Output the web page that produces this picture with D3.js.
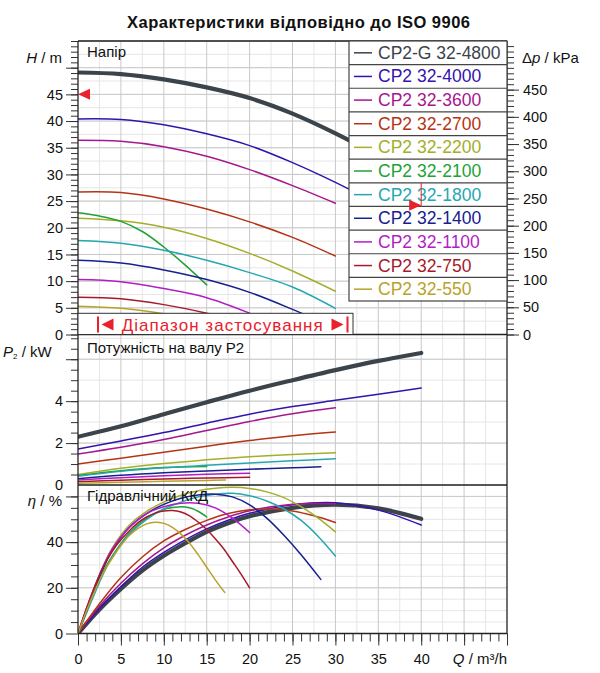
<!DOCTYPE html>
<html lang="uk">
<head>
<meta charset="utf-8">
<title>Характеристики відповідно до ISO 9906</title>
<style>
  html,body { margin:0; padding:0; background:#fff; }
  svg { display:block; }
  text { font-family: "Liberation Sans", Arial, sans-serif; }
</style>
<script src="https://d3js.org/d3.v7.min.js"></script>
</head>
<body>
<svg width="600" height="673"></svg>
<script>
// pump models, in legend order
const models = ["CP2-G 32-4800", "CP2 32-4000", "CP2 32-3600", "CP2 32-2700", "CP2 32-2200",
  "CP2 32-2100", "CP2 32-1800", "CP2 32-1400", "CP2 32-1100", "CP2 32-750", "CP2 32-550"];

// head H [m] vs Q [m³/h]
const head4800 = [[0,49.1],[5,48.8],[10,47.8],[15,46.3],[20,44.3],[25,41.4],[30,37.7],[35,33.5],[40,29]];
const head4000 = [[0,40.4],[5,40.3],[10,39.3],[15,37.6],[20,35.4],[25,32.2],[30,28.5],[35,24.4],[40,20]];
const head3600 = [[0,36.4],[5,36.2],[10,35.2],[15,33.4],[20,30.9],[25,27.9],[30,24.6]];
const head2700 = [[0,26.7],[5,26.6],[10,25.4],[15,23.5],[20,21.1],[25,18.2],[30,14.7]];
const head2200 = [[0,21.8],[5,21.3],[10,20.1],[15,18.0],[20,15.2],[25,11.9],[30,8.1]];
const head2100 = [[0,22.8],[2.5,22.2],[5,21.2],[7.5,19.3],[10,16.4],[12.5,13.0],[15,9.3]];
const head1800 = [[0,17.6],[5,17.1],[10,15.8],[15,13.9],[20,11.6],[25,8.9],[30,4.9]];
const head1400 = [[0,13.9],[5,13.4],[10,12.1],[15,10.3],[20,7.9],[25,4.7],[28.3,2.4]];
const head1100 = [[0,10.3],[5,9.9],[10,8.6],[15,6.9],[20,4.0]];
const head750  = [[0,7.0],[5,6.7],[10,5.6],[15,4.0],[20,2.0]];
const head550  = [[0,5.3],[5,4.9],[10,3.9],[15,2.4],[17.2,1.5]];

// shaft power P2 [kW]
const pow4800 = [[0,2.3],[5,2.8],[10,3.38],[15,3.95],[20,4.5],[25,5.0],[30,5.48],[35,5.92],[40,6.3]];
const pow4000 = [[0,1.72],[5,2.1],[10,2.5],[15,2.95],[20,3.38],[25,3.74],[30,4.04],[35,4.33],[40,4.63]];
const pow3600 = [[0,1.48],[5,1.8],[10,2.17],[15,2.6],[20,3.03],[25,3.4],[30,3.68]];
const pow2700 = [[0,1.0],[5,1.28],[10,1.56],[15,1.85],[20,2.12],[25,2.35],[30,2.53]];
const pow2200 = [[0,0.5],[5,0.8],[10,1.03],[15,1.2],[20,1.35],[25,1.46],[30,1.54]];
const pow2100 = [[0,0.45],[5,0.68],[10,0.83],[15,0.88]];
const pow1800 = [[0,0.42],[5,0.65],[10,0.82],[15,0.94],[20,1.05],[25,1.16],[30,1.25]];
const pow1400 = [[0,0.3],[5,0.46],[10,0.58],[15,0.67],[20,0.75],[25,0.82],[28.3,0.87]];
const pow1100 = [[0,0.24],[5,0.35],[10,0.44],[15,0.51],[20,0.56]];
const pow750  = [[0,0.16],[5,0.23],[10,0.29],[15,0.33],[20,0.37]];
const pow550  = [[0,0.08],[5,0.13],[10,0.18],[15,0.22],[17.2,0.24]];

// hydraulic efficiency [%]
const eff4800 = [[0,0],[2.5,10.5],[5,19.5],[7.5,27.5],[10,34],[12.5,39.5],[15,44.5],[17.5,48.3],[20,51.3],[25,55],[30,56.4],[35,54.8],[40,50.2]];
const eff4000 = [[0,0],[2.5,11],[5,20.5],[7.5,29],[10,35.5],[12.5,41],[15,45.8],[17.5,49.6],[20,52.6],[25,56.3],[30,57.2],[35,54],[40,47.5]];
const eff3600 = [[0,0],[2.5,12],[5,22],[7.5,30.5],[10,37.5],[12.5,43],[15,47.5],[17.5,51],[20,53.7],[25,56.6],[30,56.8]];
const eff2700 = [[0,0],[2.5,13],[5,24.5],[7.5,33.5],[10,40.5],[12.5,45.5],[15,49.5],[17.5,52.5],[20,54.2],[22.5,54.5],[25,53.6],[27.5,51.5],[30,48.6]];
const eff2200 = [[0,0],[1,11],[2,21],[3,30],[4,37.5],[6,47.5],[8,53.5],[10,57.5],[12,60.5],[14,62.5],[16,63.6],[18,64],[20,63.5],[22,62],[24,59.5],[26,55.5],[28,50.5],[30,44.5]];
const eff2100 = [[0,0],[1,10],[2,19.5],[3,27.5],[4,34],[6,44],[8,50.5],[10,54.3],[12,55.5],[13,55],[14,53.5],[15,51]];
const eff1800 = [[0,0],[1,9],[2,18],[3,26.5],[4,33.5],[6,43.5],[8,50],[10,54.5],[12,57.5],[14,59.8],[16,61],[18,61.4],[20,60.3],[22,58],[24,54.5],[26,49.5],[28,42.5],[30,33.9]];
const eff1400 = [[0,0],[1,10],[2,20],[3,29],[4,36.5],[6,46.5],[8,52.5],[10,56.5],[12,59.2],[14,60.6],[16,61],[18,59.8],[20,56.3],[22,50.5],[24,43],[26,34.5],[28.3,23.7]];
const eff1100 = [[0,0],[1,11],[2,21],[3,30],[4,37],[6,46.5],[8,52.5],[10,55.5],[12,57],[14,57],[16,55],[18,50.5],[20,44.2]];
const eff750  = [[0,0],[1,11],[2,21],[3,29.5],[4,36],[5,41],[6,45],[7,48.5],[8,51],[9,52.7],[10,53.6],[11,53.8],[12,53.2],[13,51.5],[14,48.8],[15,45.5],[16,41.5],[17,37],[18,31.5],[19,26],[20,20]];
const eff550  = [[0,0],[1,10],[2,19],[3,27],[4,33],[5,38.5],[6,43],[7,46],[8,48],[9,48.7],[10,48.2],[11,46.5],[12,43.5],[13,39.5],[14,34.5],[15,29],[16,23.5],[17.1,18]];

// tick values
const flowLabels = [0,5,10,15,20,25,30,35,40];
const headLabels = [0,5,10,15,20,25,30,35,40,45];
const kpaLabels  = [0,50,100,150,200,250,300,350,400,450];
const powLabels  = [0,2,4];
const effLabels  = [0,20,40];

// duty markers (red)
const maxHead = 45;          // left arrow on H axis
const dutyFlow = 40, dutyHead = 24.2, dutyTop = 28.5;

const headCurves = [head4800, head4000, head3600, head2700, head2200, head2100, head1800, head1400, head1100, head750, head550];
const powCurves  = [pow4800, pow4000, pow3600, pow2700, pow2200, pow2100, pow1800, pow1400, pow1100, pow750, pow550];
const effCurves  = [eff4800, eff4000, eff3600, eff2700, eff2200, eff2100, eff1800, eff1400, eff1100, eff750, eff550];

const colors = ["#3b434b", "#3412b0", "#a5178e", "#b53416", "#a4ae2a", "#22a236", "#24a7b0", "#16208f", "#b11ec4", "#a7192b", "#b9a22a"];
const widths = [4.2, 1.5, 1.5, 1.5, 1.5, 1.5, 1.5, 1.5, 1.5, 1.5, 1.5];

const svg = d3.select("svg");
const L = 78, R = 507, T = 41, yHP = 334.5, yPE = 485, B = 633.5;

const x    = d3.scaleLinear().domain([0, 50]).range([L, R]);
const yH   = d3.scaleLinear().domain([0, 55]).range([yHP, T]);
const yKpa = d3.scaleLinear().domain([0, 55 * 9.807]).range([yHP, T]);
const yP   = d3.scaleLinear().domain([0, 7.18]).range([yPE, yHP]);
const yE   = d3.scaleLinear().domain([0, 65]).range([B, yPE]);

const LIGHT = "#e6e6e6", MEDIUM = "#c9c9c9";

function grid(y, lightStep, medStep, top, bottom) {
  const g = svg.append("g");
  const [y0, y1] = y.domain();
  const hl = d3.range(y0, y1 + 1e-9, lightStep).filter(v => v > 0);
  const hm = d3.range(y0, y1 + 1e-9, medStep).filter(v => v > 0);
  g.selectAll(".hl").data(hl).join("line").attr("x1", L).attr("x2", R)
    .attr("y1", d => y(d)).attr("y2", d => y(d)).attr("stroke", LIGHT);
  g.selectAll(".vl").data(d3.range(2.5, 50, 5)).join("line")
    .attr("x1", d => x(d)).attr("x2", d => x(d)).attr("y1", top).attr("y2", bottom).attr("stroke", LIGHT);
  g.selectAll(".hm").data(hm).join("line").attr("x1", L).attr("x2", R)
    .attr("y1", d => y(d)).attr("y2", d => y(d)).attr("stroke", MEDIUM);
  g.selectAll(".vm").data(d3.range(5, 50, 5)).join("line")
    .attr("x1", d => x(d)).attr("x2", d => x(d)).attr("y1", top).attr("y2", bottom).attr("stroke", MEDIUM);
}
grid(yH, 2.5, 5, T, yHP);
grid(yP, 1, 2, yHP, yPE);
grid(yE, 5, 20, yPE, B);

// clip regions
const defs = svg.append("defs");
[["cH", T, yHP], ["cP", yHP, yPE], ["cE", yPE, B]].forEach(([id, a, b]) => {
  defs.append("clipPath").attr("id", id).append("rect")
    .attr("x", L).attr("y", a).attr("width", R - L).attr("height", b - a);
});

function curves(data, y, clip) {
  const line = d3.line().x(d => x(d[0])).y(d => y(d[1])).curve(d3.curveCatmullRom.alpha(0.5));
  svg.append("g").attr("clip-path", `url(#${clip})`)
    .selectAll("path").data(data).join("path")
    .attr("d", line)
    .attr("fill", "none")
    .attr("stroke", (d, i) => colors[i])
    .attr("stroke-width", (d, i) => widths[i])
    .attr("stroke-linecap", "round");
}
curves(headCurves, yH, "cH");
curves(powCurves, yP, "cP");
curves(effCurves, yE, "cE");

// axes
function styleAxis(g, size) {
  g.select(".domain").remove();
  g.attr("font-family", "'Liberation Sans', Arial, sans-serif").attr("font-size", size);
  g.selectAll("line").attr("stroke", "#333");
  g.selectAll("text").attr("fill", "#111");
}
const left = svg.append("g").attr("transform", `translate(${L},0)`);
left.append("g").call(d3.axisLeft(yH).tickValues(d3.range(0, 56, 1)).tickSize(7).tickFormat("")).call(styleAxis, 14.5);
left.append("g").call(d3.axisLeft(yH).tickValues(d3.range(0, 51, 5)).tickSize(12).tickPadding(3)
  .tickFormat(d => headLabels.includes(d) ? d : "")).call(styleAxis, 14.5);
left.append("g").call(d3.axisLeft(yP).tickValues(d3.range(0.5, 7.01, 0.5)).tickSize(7).tickFormat("")).call(styleAxis, 14.5);
left.append("g").call(d3.axisLeft(yP).tickValues([2, 4, 6]).tickSize(12).tickPadding(3)
  .tickFormat(d => powLabels.includes(d) ? d : "")).call(styleAxis, 14.5);
left.append("g").call(d3.axisLeft(yE).tickValues(d3.range(5, 61, 5)).tickSize(7).tickFormat("")).call(styleAxis, 14.5);
left.append("g").call(d3.axisLeft(yE).tickValues([0, 20, 40, 60]).tickSize(12).tickPadding(3)
  .tickFormat(d => effLabels.includes(d) ? d : "")).call(styleAxis, 14.5);
// P axis "0" label sits on the panel border
left.append("text").attr("x", -15).attr("y", yP(0) + 4.5).attr("text-anchor", "end")
  .attr("font-size", 14.5).attr("fill", "#111").text(powLabels[0]);

const right = svg.append("g").attr("transform", `translate(${R},0)`);
right.append("g").call(d3.axisRight(yKpa).tickValues(d3.range(0, 531, 10)).tickSize(7).tickFormat("")).call(styleAxis, 14.5);
right.append("g").call(d3.axisRight(yKpa).tickValues(kpaLabels).tickSize(12).tickPadding(4)).call(styleAxis, 14.5);

const bottom = svg.append("g").attr("transform", `translate(0,${B})`);
bottom.append("g").call(d3.axisBottom(x).tickValues(d3.range(0, 51, 1)).tickSize(8).tickFormat("")).call(styleAxis, 14.5);
bottom.append("g").call(d3.axisBottom(x).tickValues(d3.range(0, 51, 5)).tickSize(12).tickPadding(8)
  .tickFormat(d => flowLabels.includes(d) ? d : "")).call(styleAxis, 14.5);

// frame and panel separators
const frame = svg.append("g").attr("stroke", "#222").attr("stroke-width", 1.3);
[[L, T, R, T], [L, T, L, B], [R, T, R, B], [L, B, R, B], [L, yHP, R, yHP], [L, yPE, R, yPE]]
  .forEach(([a, b, c, d]) => frame.append("line").attr("x1", a).attr("y1", b).attr("x2", c).attr("y2", d));

// application range box
const red = "#e8212b";
const box = svg.append("g");
box.append("rect").attr("x", L).attr("y", 313.3).attr("width", 275).attr("height", yHP - 313.3)
  .attr("fill", "#fff").attr("stroke", "#333").attr("stroke-width", 1);
box.append("rect").attr("x", 97).attr("y", 316.5).attr("width", 2).attr("height", 16).attr("fill", red);
box.append("path").attr("d", "M101.5,324.5 L113.5,318.5 L113.5,330.5 Z").attr("fill", red);
box.append("text").attr("x", 121.7).attr("y", 330.5).attr("font-size", 17).attr("fill", red)
  .attr("textLength", 201).attr("lengthAdjust", "spacing").text("Діапазон застосування");
box.append("path").attr("d", "M343.5,324.5 L331.5,318.5 L331.5,330.5 Z").attr("fill", red);
box.append("rect").attr("x", 346.5).attr("y", 316.5).attr("width", 2).attr("height", 16).attr("fill", red);

// legend
const rowH = 260 / models.length;
const leg = svg.append("g").attr("transform", `translate(349,${T})`);
leg.append("rect").attr("width", R - 349).attr("height", 260).attr("fill", "#fff")
  .attr("stroke", "#444").attr("stroke-width", 1.2);
const rows = leg.selectAll(".row").data(models).join("g").attr("transform", (d, i) => `translate(0,${i * rowH})`);
rows.filter((d, i) => i > 0).append("line").attr("x1", 0).attr("x2", R - 349).attr("stroke", "#444").attr("stroke-width", 1.2);
rows.append("line").attr("x1", 5).attr("x2", 23).attr("y1", rowH / 2).attr("y2", rowH / 2)
  .attr("stroke", (d, i) => colors[i]).attr("stroke-width", 1.5);
rows.append("text").attr("x", 29).attr("y", rowH / 2 + 6).attr("font-size", 17.5)
  .attr("fill", (d, i) => colors[i]).text(d => d);

// red duty markers
svg.append("path").attr("fill", red)
  .attr("d", `M${x(0)},${yH(maxHead)} l12,-5.5 l0,11 Z`);
svg.append("line").attr("stroke", red).attr("stroke-width", 1)
  .attr("x1", x(dutyFlow)).attr("x2", x(dutyFlow)).attr("y1", yH(dutyTop)).attr("y2", yH(dutyHead) + 1.5);
svg.append("path").attr("fill", red)
  .attr("d", `M${x(dutyFlow)},${yH(dutyHead)} l-12,-5.5 l0,11 Z`);

// titles and labels
svg.append("text").attr("x", 298.5).attr("y", 27.5).attr("text-anchor", "middle")
  .attr("font-size", 16.5).attr("font-weight", "bold").attr("fill", "#111")
  .attr("textLength", 343).attr("lengthAdjust", "spacing")
  .text("Характеристики відповідно до ISO 9906");
const labels = svg.append("g").attr("fill", "#111").attr("font-size", 15);
labels.append("text").attr("x", 87).attr("y", 56.5).text("Напір");
labels.append("text").attr("x", 87).attr("y", 352.5).text("Потужність на валу P2");
labels.append("text").attr("x", 87).attr("y", 500.5).text("Гідравлічний ККД");

const h = labels.append("text").attr("x", 62).attr("y", 62.5).attr("text-anchor", "end");
h.append("tspan").attr("font-style", "italic").text("H");
h.append("tspan").text(" / m");
const p = labels.append("text").attr("x", 3).attr("y", 357);
p.append("tspan").attr("font-style", "italic").text("P");
p.append("tspan").attr("font-size", 8).attr("dy", 2).text("2");
p.append("tspan").attr("dy", -2).text(" / kW");
const eta = labels.append("text").attr("x", 62).attr("y", 505.5).attr("text-anchor", "end");
eta.append("tspan").attr("font-style", "italic").text("η");
eta.append("tspan").text(" / %");
const dp = labels.append("text").attr("x", 522).attr("y", 63);
dp.append("tspan").text("Δ");
dp.append("tspan").attr("font-style", "italic").text("p");
dp.append("tspan").text(" / kPa");
const q = labels.append("text").attr("x", 507).attr("y", 663.5).attr("text-anchor", "end");
q.append("tspan").attr("font-style", "italic").text("Q");
q.append("tspan").text(" / m³/h");
</script>
</body>
</html>
